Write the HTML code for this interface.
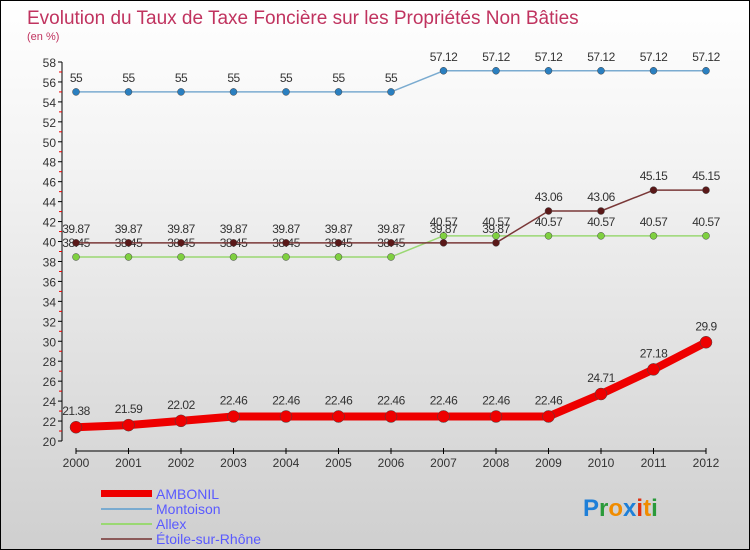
<!DOCTYPE html>
<html><head><meta charset="utf-8"><style>
body{margin:0}
#wrap{width:748px;height:548px;border:1px solid #000;background:linear-gradient(#fff,#f3f3f3 30%,#cfcfcf);position:relative;overflow:hidden;font-family:"Liberation Sans",sans-serif}
</style></head><body>
<div id="wrap">
<svg id="c" width="748" height="548">
<text x="26" y="23" font-size="19" fill="#c0335f">Evolution du Taux de Taxe Foncière sur les Propriétés Non Bâties</text>
<text x="26" y="39" font-size="11" fill="#c0335f">(en %)</text>
<g id="legend">
<rect x="100" y="489" width="51" height="7" fill="#e00"/>
<text x="155" y="498" font-size="14" fill="#5a5aff">AMBONIL</text>
<rect x="100" y="507" width="51" height="2" fill="#7aabd0"/>
<text x="155" y="513" font-size="14" fill="#5a5aff">Montoison</text>
<rect x="100" y="522" width="51" height="2" fill="#9ad873"/>
<text x="155" y="528" font-size="14" fill="#5a5aff">Allex</text>
<rect x="100" y="537" width="51" height="2" fill="#8b5a5a"/>
<text x="155" y="543" font-size="14" fill="#5a5aff">Étoile-sur-Rhône</text>
</g>
<g font-size="24" font-weight="bold">
<text x="582" y="515"><tspan fill="#1e7fd8">P</tspan><tspan fill="#2a9a3a">r</tspan><tspan fill="#f08c00">o</tspan><tspan fill="#1e7fd8">x</tspan><tspan fill="#e03010">i</tspan><tspan fill="#f08c00">t</tspan><tspan fill="#2a9a3a">i</tspan></text>
</g>
</svg>
</div>
<script>
const years=[2000,2001,2002,2003,2004,2005,2006,2007,2008,2009,2010,2011,2012];
const ambonil=[21.38,21.59,22.02,22.46,22.46,22.46,22.46,22.46,22.46,22.46,24.71,27.18,29.9];
const montoison=[55,55,55,55,55,55,55,57.12,57.12,57.12,57.12,57.12,57.12];
const allex=[38.45,38.45,38.45,38.45,38.45,38.45,38.45,40.57,40.57,40.57,40.57,40.57,40.57];
const etoile=[39.87,39.87,39.87,39.87,39.87,39.87,39.87,39.87,39.87,43.06,43.06,45.15,45.15];
const yTicks=[20,22,24,26,28,30,32,34,36,38,40,42,44,46,48,50,52,54,56,58];
const NS='http://www.w3.org/2000/svg',svg=document.getElementById('c');
const X=i=>75+i*52.5, Y=v=>440-(v-20)*(379/38);
function el(t,a,p){const e=document.createElementNS(NS,t);for(const k in a)e.setAttribute(k,a[k]);(p||svg).appendChild(e);return e;}
const ax=el('g',{});


el('line',{x1:61,y1:Y(58),x2:61,y2:Y(20),stroke:'#000'},ax);
yTicks.forEach(v=>{
  el('line',{x1:57,x2:61,y1:Y(v),y2:Y(v),stroke:'#000'},ax);
  el('line',{x1:58,x2:61,y1:Y(v+1),y2:Y(v+1),stroke:v<58?'#e00':'none'},ax);
  const t=el('text',{x:55,y:Y(v)+5,'font-size':12,fill:'#333','text-anchor':'end'},ax);t.textContent=v;
  
  
});
el('line',{x1:X(0),x2:X(12),y1:450,y2:450,stroke:'#000'},ax);
years.forEach((y,i)=>{
  el('line',{x1:X(i),x2:X(i),y1:447,y2:453,stroke:'#000'},ax);
  const t=el('text',{x:X(i),y:466,'font-size':12,fill:'#333','text-anchor':'middle'},ax);t.textContent=y;
  
  
});
function series(name,vals,color,w,r,dot,lblDy){
  const g=el('g',{});
  
  
  el('polyline',{points:vals.map((v,i)=>X(i)+','+Y(v)).join(' '),fill:'none',stroke:color,'stroke-width':w,'stroke-linejoin':'round'},g);
  vals.forEach((v,i)=>{
    const c=el('circle',{cx:X(i),cy:Y(v),r:r,fill:dot,stroke:'#444','stroke-width':0.5},g);
    
    
    const t=el('text',{x:X(i),y:Y(v)+lblDy,'font-size':12,fill:'#333','text-anchor':'middle','letter-spacing':'-0.5'},g);t.textContent=v;
    
    
  });
}
series('montoison',montoison,'#7aabd0',1.5,3.5,'#2a7fc0',-10);
series('allex',allex,'#9ad873',1.5,3.5,'#7fd040',-10);
series('etoile',etoile,'#7a3838',1.5,3.5,'#5a1818',-10);
series('ambonil',ambonil,'#e00',8,6,'#e00',-12);
</script>
</body></html>
